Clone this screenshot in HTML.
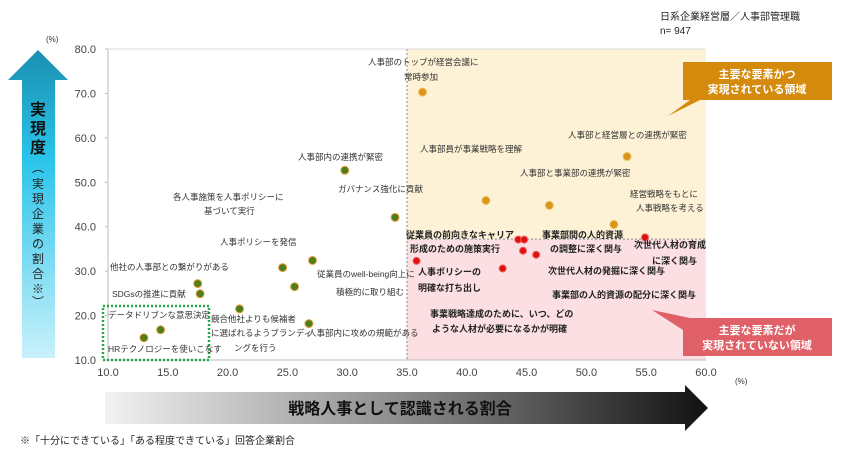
<!DOCTYPE html>
<html><head><meta charset="utf-8"><style>
body{margin:0;background:#fff;font-family:"Liberation Sans","Noto Sans CJK JP",sans-serif;}
svg text{font-family:"Liberation Sans","Noto Sans CJK JP",sans-serif;}
</style></head><body>
<svg id="chart" width="846" height="460" viewBox="0 0 846 460" xmlns="http://www.w3.org/2000/svg">
<defs>
<linearGradient id="gv" x1="0" y1="0" x2="0" y2="1"><stop offset="0" stop-color="#1a8fb0"/><stop offset="0.35" stop-color="#29c4ea"/><stop offset="1" stop-color="#c9f1fb"/></linearGradient>
<linearGradient id="gh" x1="0" y1="0" x2="1" y2="0"><stop offset="0" stop-color="#f2f2f2"/><stop offset="0.5" stop-color="#8a8a8a"/><stop offset="1" stop-color="#111"/></linearGradient>
</defs>
<text x="660" y="20" font-size="10" fill="#222">日系企業経営層／人事部管理職</text>
<text x="660" y="34" font-size="10" fill="#222">n= 947</text>
<g>
<polygon points="38,50 68,80 55,80 55,358 22,358 22,80 8,80" fill="url(#gv)"/>
<text x="38" y="115" font-size="16" font-weight="bold" text-anchor="middle" fill="#111">実</text>
<text x="38" y="134" font-size="16" font-weight="bold" text-anchor="middle" fill="#111">現</text>
<text x="38" y="153" font-size="16" font-weight="bold" text-anchor="middle" fill="#111">度</text>
<text x="38" y="172" font-size="12" text-anchor="middle" fill="#222">︵</text>
<text x="38" y="188" font-size="12" text-anchor="middle" fill="#222">実</text>
<text x="38" y="203" font-size="12" text-anchor="middle" fill="#222">現</text>
<text x="38" y="218" font-size="12" text-anchor="middle" fill="#222">企</text>
<text x="38" y="233" font-size="12" text-anchor="middle" fill="#222">業</text>
<text x="38" y="248" font-size="12" text-anchor="middle" fill="#222">の</text>
<text x="38" y="263" font-size="12" text-anchor="middle" fill="#222">割</text>
<text x="38" y="278" font-size="12" text-anchor="middle" fill="#222">合</text>
<text x="38" y="293" font-size="12" text-anchor="middle" fill="#222">※</text>
<text x="38" y="306" font-size="12" text-anchor="middle" fill="#222">︶</text>
</g>
<g>
<polygon points="105,392 685,392 685,385 708,408 685,431 685,424 105,424" fill="url(#gh)"/>
<text x="400" y="414" font-size="16" font-weight="bold" text-anchor="middle" fill="#111">戦略人事として認識される割合</text>
</g>
<text x="20" y="444" font-size="10" fill="#222">※「十分にできている」「ある程度できている」回答企業割合</text>
<g id="plot"></g>
</svg>
<script>
const xTicks=[10,15,20,25,30,35,40,45,50,55,60];
const yTicks=[10,20,30,40,50,60,70,80];
const greenLabels=["人事部内の連携が緊密","ガバナンス強化に貢献","各人事施策を人事ポリシーに基づいて実行","人事ポリシーを発信","従業員のwell-being向上に積極的に取り組む","他社の人事部との繋がりがある","SDGsの推進に貢献","競合他社よりも候補者に選ばれるようブランディングを行う","人事部内に攻めの規範がある","データドリブンな意思決定","HRテクノロジーを使いこなす"];
const greenX=[29.8,34.0,27.1,24.6,25.6,17.5,17.7,21.0,26.8,14.4,13.0];
const greenY=[52.7,42.1,32.4,30.8,26.5,27.2,24.9,21.5,18.2,16.8,15.0];
const orangeLabels=["人事部のトップが経営会議に常時参加","人事部員が事業戦略を理解","人事部と経営層との連携が緊密","人事部と事業部の連携が緊密","経営戦略をもとに人事戦略を考える"];
const orangeX=[36.3,41.6,53.4,46.9,52.3];
const orangeY=[70.3,45.9,55.8,44.8,40.5];
const redLabels=["従業員の前向きなキャリア形成のための施策実行","事業部間の人的資源の調整に深く関与","次世代人材の発掘に深く関与","事業部の人的資源の配分に深く関与","事業戦略達成のために、いつ、どのような人材が必要になるかが明確","人事ポリシーの明確な打ち出し","次世代人材の育成に深く関与"];
const redX=[44.3,44.8,45.8,44.7,43.0,35.8,54.9];
const redY=[37.1,37.1,33.7,34.6,30.6,32.3,37.6];

const NS="http://www.w3.org/2000/svg";
const g=document.getElementById('plot');
const X0=108,X1=706,Y0=360,Y1=49;
const sx=v=>X0+(v-10)/50*(X1-X0);
const sy=v=>Y0-(v-10)/70*(Y0-Y1);
function mk(t,a,p){const e=document.createElementNS(NS,t);for(const k in a)e.setAttribute(k,a[k]);(p||g).appendChild(e);return e;}
function txt(x,y,s,o){const e=mk('text',Object.assign({x:x,y:y,'font-size':9,fill:'#333'},o||{}));e.textContent=s;return e;}

const q1=mk('rect',{x:sx(35),y:sy(80),width:sx(60)-sx(35),height:sy(37.2)-sy(80),fill:'#fdf1d6'});


const q2=mk('rect',{x:sx(35),y:sy(37.2),width:sx(60)-sx(35),height:sy(10)-sy(37.2),fill:'#fbdfe2'});


mk('line',{x1:sx(35),y1:sy(80),x2:sx(35),y2:sy(10),stroke:'#aaa','stroke-dasharray':'2,2','stroke-width':1.5});
mk('line',{x1:sx(35),y1:sy(37.2),x2:sx(60),y2:sy(37.2),stroke:'#aaa','stroke-dasharray':'2,2','stroke-width':1.5});
mk('line',{x1:X0,y1:Y1,x2:X0,y2:Y0,stroke:'#bbb'});
mk('line',{x1:X0,y1:Y0,x2:X1,y2:Y0,stroke:'#bbb'});
mk('line',{x1:X0,y1:Y1,x2:X1,y2:Y1,stroke:'#ddd'});
yTicks.forEach(v=>{const t=txt(96,sy(v)+4,v.toFixed(1),{'font-size':11,'text-anchor':'end',fill:'#444'});


mk('line',{x1:X0-3,y1:sy(v),x2:X0,y2:sy(v),stroke:'#bbb'});});
xTicks.forEach(v=>{const t=txt(sx(v),376,v.toFixed(1),{'font-size':11,'text-anchor':'middle',fill:'#444'});

});
txt(46,42,'(%)',{'font-size':8});
txt(735,384,'(%)',{'font-size':8});
mk('rect',{x:103,y:306,width:106,height:54,fill:'none',stroke:'#22aa44','stroke-width':2.5,'stroke-dasharray':'2,2'});

const gPos=[[298,160],[338,192],[173,200,'基づいて実行',204,214],[220,245],[317,277,'積極的に取り組む',336,295],[110,270],[112,297],[211,322,'に選ばれるようブランディ',211,336,'ングを行う',234,351],[308,336],[108,318],[108,352]];
const gSplit=[null,null,'各人事施策を人事ポリシーに',null,'従業員のwell-being向上に',null,null,'競合他社よりも候補者',null,null,null];
greenX.forEach((v,i)=>{
  const c=mk('circle',{cx:sx(v),cy:sy(greenY[i]),r:4,fill:'#4e7f1e',stroke:'#e8a040','stroke-width':1});
  
  
  const p=gPos[i];const first=gSplit[i]||greenLabels[i];
  const o={'font-size':8.5};
  txt(p[0],p[1],first,o);
  if(p[2]){txt(p[3],p[4],p[2],o);}
  if(p[5]){txt(p[6],p[7],p[5],o);}
});
const oPos=[[368,65,'常時参加',404,80],[420,152],[568,138],[520,176],[630,197,'人事戦略を考える',636,211]];
const oSplit=['人事部のトップが経営会議に',null,null,null,'経営戦略をもとに'];
orangeX.forEach((v,i)=>{
  const c=mk('circle',{cx:sx(v),cy:sy(orangeY[i]),r:4,fill:'#d9951e',stroke:'#f0c060','stroke-width':1});
  
  
  const p=oPos[i];txt(p[0],p[1],oSplit[i]||orangeLabels[i],{'font-size':8.5});
  if(p[2])txt(p[3],p[4],p[2],{'font-size':8.5});
});
const rPos=[[406,238,'形成のための施策実行',410,252],[542,238,'の調整に深く関与',550,252],[548,274],[552,298],[430,317,'ような人材が必要になるかが明確',432,332],[418,275,'明確な打ち出し',418,291],[634,248,'に深く関与',652,264]];
const rSplit=['従業員の前向きなキャリア','事業部間の人的資源',null,null,'事業戦略達成のために、いつ、どの','人事ポリシーの','次世代人材の育成'];
redX.forEach((v,i)=>{
  const c=mk('circle',{cx:sx(v),cy:sy(redY[i]),r:3.5,fill:'#dd1111',stroke:'#f06060','stroke-width':1});
  
  
  const p=rPos[i];txt(p[0],p[1],rSplit[i]||redLabels[i],{'font-weight':'bold',fill:'#222'});
  if(p[2])txt(p[3],p[4],p[2],{'font-weight':'bold',fill:'#222'});
});
mk('polygon',{points:'683,62 832,62 832,100 700,100 668,116 690,100 683,100',fill:'#d48a0c'});
txt(757,78,'主要な要素かつ',{'font-size':11,'font-weight':'bold',fill:'#fff','text-anchor':'middle'});
txt(757,93,'実現されている領域',{'font-size':11,'font-weight':'bold',fill:'#fff','text-anchor':'middle'});
mk('polygon',{points:'683,318 832,318 832,356 683,356 683,330 652,310 690,318',fill:'#e06068'});
txt(757,334,'主要な要素だが',{'font-size':11,'font-weight':'bold',fill:'#fff','text-anchor':'middle'});
txt(757,349,'実現されていない領域',{'font-size':11,'font-weight':'bold',fill:'#fff','text-anchor':'middle'});
</script>
</body></html>
